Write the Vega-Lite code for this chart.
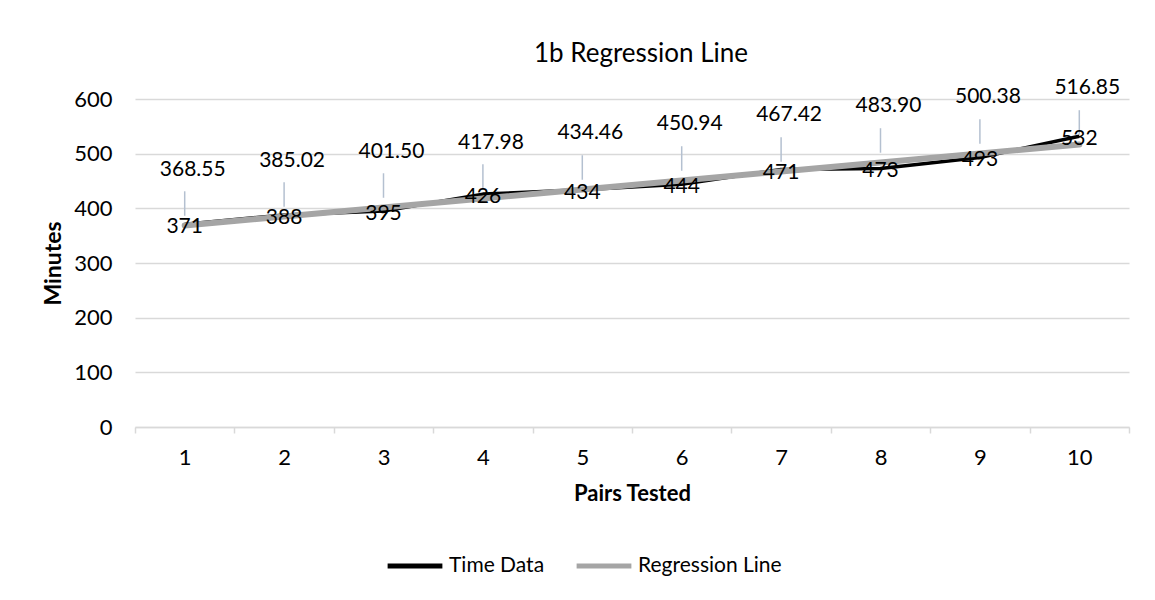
{
  "$schema": "https://vega.github.io/schema/vega-lite/v6.json",
  "width": 994,
  "height": 328,
  "autosize": {"type": "none"},
  "padding": {"left": 135, "top": 99, "right": 26, "bottom": 173},
  "background": "white",
  "title": {
    "text": "1b Regression Line",
    "font": "Lato",
    "fontSize": 26,
    "fontWeight": "normal",
    "color": "#000000",
    "anchor": "middle",
    "frame": "group",
    "baseline": "alphabetic",
    "offset": 37,
    "dx": 9,
    "dy": 48
  },
  "data": {
    "values": [
      {"pair": "1", "series": "Time Data", "value": 371},
      {"pair": "2", "series": "Time Data", "value": 388},
      {"pair": "3", "series": "Time Data", "value": 395},
      {"pair": "4", "series": "Time Data", "value": 426},
      {"pair": "5", "series": "Time Data", "value": 434},
      {"pair": "6", "series": "Time Data", "value": 444},
      {"pair": "7", "series": "Time Data", "value": 471},
      {"pair": "8", "series": "Time Data", "value": 473},
      {"pair": "9", "series": "Time Data", "value": 493},
      {"pair": "10", "series": "Time Data", "value": 532},
      {"pair": "1", "series": "Regression Line", "value": 368.55},
      {"pair": "2", "series": "Regression Line", "value": 385.02},
      {"pair": "3", "series": "Regression Line", "value": 401.50},
      {"pair": "4", "series": "Regression Line", "value": 417.98},
      {"pair": "5", "series": "Regression Line", "value": 434.46},
      {"pair": "6", "series": "Regression Line", "value": 450.94},
      {"pair": "7", "series": "Regression Line", "value": 467.42},
      {"pair": "8", "series": "Regression Line", "value": 483.90},
      {"pair": "9", "series": "Regression Line", "value": 500.38},
      {"pair": "10", "series": "Regression Line", "value": 516.85}
    ]
  },
  "encoding": {
    "x": {
      "field": "pair",
      "type": "ordinal",
      "sort": null,
      "bandPosition": 0.5,
      "scale": {"type": "band", "paddingInner": 0, "paddingOuter": 0},
      "axis": {
        "title": "Pairs Tested",
        "titleFont": "Lato",
        "titleFontSize": 22,
        "titleFontWeight": "bold",
        "titleColor": "#000000",
        "titlePadding": 15,
        "labelFont": "Lato",
        "labelFontSize": 22,
        "labelColor": "#000000",
        "labelAngle": 0,
        "labelPadding": 14,
        "tickBand": "extent",
        "tickSize": 6,
        "tickColor": "#d9d9d9",
        "tickWidth": 1.5,
        "domainColor": "#d9d9d9",
        "domainWidth": 1.5,
        "grid": false
      }
    },
    "y": {
      "field": "value",
      "type": "quantitative",
      "scale": {"domain": [0, 600], "nice": false, "zero": true},
      "axis": {
        "title": "Minutes",
        "titleFont": "Lato",
        "titleFontSize": 23,
        "titleFontWeight": "bold",
        "titleColor": "#000000",
        "titlePadding": 8,
        "values": [0, 100, 200, 300, 400, 500, 600],
        "labelFont": "Lato",
        "labelFontSize": 22,
        "labelColor": "#000000",
        "labelPadding": 23,
        "ticks": false,
        "domain": false,
        "grid": true,
        "gridColor": "#d9d9d9",
        "gridWidth": 1.5
      }
    }
  },
  "layer": [
    {
      "transform": [{"filter": "datum.series === 'Time Data'"}],
      "mark": {"type": "line", "strokeWidth": 3.5, "strokeJoin": "round"},
      "encoding": {
        "color": {
          "field": "series",
          "type": "nominal",
          "scale": {"domain": ["Time Data", "Regression Line"], "range": ["#000000", "#a5a5a5"]},
          "legend": {
            "title": null,
            "orient": "none",
            "legendX": 250,
            "legendY": 437,
            "direction": "horizontal",
            "symbolType": "stroke",
            "symbolSize": 3000,
            "symbolStrokeWidth": 5,
            "labelFont": "Lato",
            "labelFontSize": 21,
            "labelColor": "#000000",
            "labelOffset": 4,
            "columnPadding": 21
          }
        }
      }
    },
    {
      "transform": [{"filter": "datum.series === 'Regression Line'"}],
      "mark": {"type": "line", "strokeWidth": 6, "strokeJoin": "round", "strokeCap": "round"},
      "encoding": {
        "color": {"field": "series", "type": "nominal"}
      }
    },
    {
      "transform": [{"filter": "datum.series === 'Regression Line'"}],
      "mark": {"type": "point", "shape": "M0,-1L0,1", "size": 600, "strokeWidth": 1.5, "color": "#b4c0d0", "opacity": 1, "yOffset": -22},
      "encoding": {}
    },
    {
      "transform": [{"filter": "datum.series === 'Time Data'"}],
      "mark": {"type": "text", "font": "Lato", "fontSize": 21, "color": "#000000", "baseline": "middle", "align": "center", "dy": 3},
      "encoding": {"text": {"field": "value", "type": "quantitative", "format": "d"}}
    },
    {
      "transform": [{"filter": "datum.series === 'Regression Line'"}],
      "mark": {"type": "text", "font": "Lato", "fontSize": 21, "color": "#000000", "baseline": "middle", "align": "center", "dy": -56, "dx": 8},
      "encoding": {"text": {"field": "value", "type": "quantitative", "format": ".2f"}}
    }
  ],
  "config": {
    "view": {"stroke": null}
  }
}
